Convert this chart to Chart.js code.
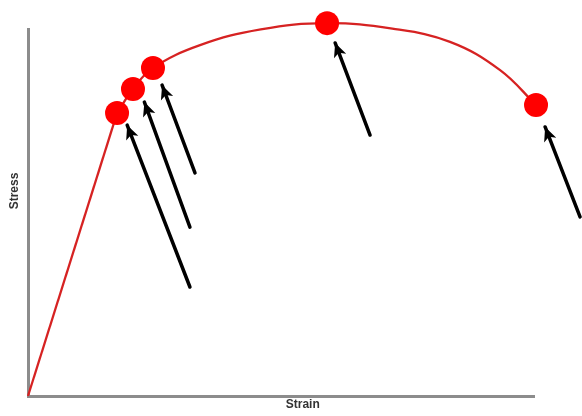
<!DOCTYPE html>
<html>
<head>
<meta charset="utf-8">
<script src="https://cdn.jsdelivr.net/npm/chart.js@4/dist/chart.umd.min.js"></script>
<style>
  html, body { margin: 0; padding: 0; background: #fff; }
  #wrap { width: 582px; height: 416px; }
</style>
</head>
<body>
<div id="wrap"><canvas id="c" width="582" height="416"></canvas></div>
<script>
// ---- Data (axis units 0..100) ----
const xLabel = "Strain";
const yLabel = "Stress";

// elastic (straight) part
const elasticStrain = [0, 17.6];
const elasticStress = [0, 77.1];

// plastic (curved) part
const plasticStrain = [17.6, 20.75, 24.7, 34.0, 46.0, 59.1, 72.0, 83.4, 93.3, 100.4];
const plasticStress = [77.1, 83.65, 89.4, 95.6, 99.9, 101.6, 100.1, 96.5, 88.8, 79.3];

// marked points
const markStrain = [17.6, 20.75, 24.7, 59.1, 100.4];
const markStress = [77.1, 83.65, 89.4, 101.6, 79.3];

// arrows: tail -> tip
const arrowTailX = [32.0, 32.0, 33.0, 67.6, 109.1];
const arrowTailY = [29.7, 46.0, 60.8, 71.1, 48.8];
const arrowTipX  = [19.6, 23.0, 26.5, 60.7, 102.2];
const arrowTipY  = [73.8, 80.1, 84.7, 96.2, 73.3];

// ---- Build datasets ----
const toPts = (xs, ys) => xs.map((x, i) => ({ x, y: ys[i] }));

const datasets = [];
datasets.push({
  label: 'marks',
  data: toPts(markStrain, markStress),
  showLine: false,
  pointRadius: 12,
  pointHoverRadius: 12,
  pointBackgroundColor: '#ff0000',
  pointBorderWidth: 0,
  order: 0
});
datasets.push({
  label: 'elastic',
  data: toPts(elasticStrain, elasticStress),
  showLine: true,
  borderColor: '#d62222',
  borderWidth: 2.3,
  pointRadius: 0,
  tension: 0,
  order: 2
});
datasets.push({
  label: 'plastic',
  data: toPts(plasticStrain, plasticStress),
  showLine: true,
  borderColor: '#d62222',
  borderWidth: 2.3,
  pointRadius: 0,
  tension: 0.4,
  order: 2
});
arrowTailX.forEach((_, i) => {
  datasets.push({
    label: 'arrow' + i,
    isArrow: true,
    data: [{ x: arrowTailX[i], y: arrowTailY[i] }, { x: arrowTipX[i], y: arrowTipY[i] }],
    showLine: true,
    borderColor: '#000000',
    borderWidth: 3.5,
    borderCapStyle: 'round',
    pointRadius: 0,
    order: 1
  });
});

// arrowheads drawn at the tip of each arrow dataset
const arrowHeads = {
  id: 'arrowHeads',
  afterDatasetsDraw(chart) {
    const ctx = chart.ctx;
    chart.data.datasets.forEach((ds, i) => {
      if (!ds.isArrow) return;
      const meta = chart.getDatasetMeta(i);
      const a = meta.data[0], b = meta.data[1];
      const ang = Math.atan2(b.y - a.y, b.x - a.x);
      const len = 14, half = 6.5;
      ctx.save();
      ctx.translate(b.x, b.y);
      ctx.rotate(ang);
      ctx.beginPath();
      ctx.moveTo(0, 0);
      ctx.lineTo(-len, -half);
      ctx.lineTo(-len * 0.75, 0);
      ctx.lineTo(-len, half);
      ctx.closePath();
      ctx.fillStyle = '#000';
      ctx.fill();
      ctx.restore();
    });
  }
};

// axis titles, placed relative to the chart area
const axisTitles = {
  id: 'axisTitles',
  afterDraw(chart) {
    const { ctx, chartArea } = chart;
    const xs = chart.scales.x;
    ctx.save();
    ctx.font = 'bold 12px "Liberation Sans", Arial, sans-serif';
    ctx.fillStyle = '#333333';
    ctx.textAlign = 'center';
    ctx.textBaseline = 'middle';
    ctx.fillText(xLabel, xs.getPixelForValue(54.3), chartArea.bottom + 9);
    ctx.translate(chartArea.left - 13, chartArea.top + 162);
    ctx.rotate(-Math.PI / 2);
    ctx.fillText(yLabel, 0, 0);
    ctx.restore();
  }
};

new Chart(document.getElementById('c'), {
  type: 'scatter',
  data: { datasets },
  options: {
    responsive: false,
    animation: false,
    layout: { padding: { left: 28, top: 29, right: 48, bottom: 20 } },
    plugins: { legend: { display: false }, tooltip: { enabled: false } },
    elements: { line: { clip: false } },
    datasets: { scatter: { clip: false } },
    scales: {
      x: {
        type: 'linear', min: 0, max: 100,
        grid: { display: false, drawTicks: false },
        ticks: { display: false },
        border: { display: true, color: '#8c8c8c', width: 3 }
      },
      y: {
        type: 'linear', min: 0, max: 100,
        grid: { display: false, drawTicks: false },
        ticks: { display: false },
        border: { display: true, color: '#8c8c8c', width: 3 }
      }
    }
  },
  plugins: [arrowHeads, axisTitles]
});
</script>
</body>
</html>
